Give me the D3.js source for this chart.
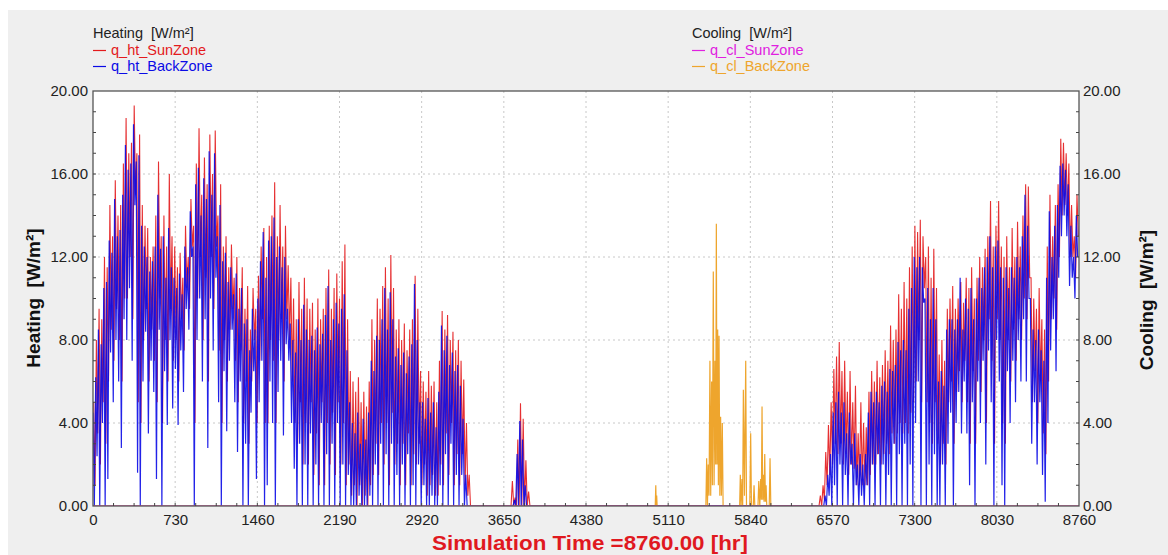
<!DOCTYPE html>
<html>
<head>
<meta charset="utf-8">
<script src="https://cdn.jsdelivr.net/npm/d3@7"></script>
<style>
  html, body { margin: 0; padding: 0; background: #fff; }
  svg { display: block; font-family: "Liberation Sans", Arial, sans-serif; }
  text { white-space: pre; }
</style>
</head>
<body>
<svg id="chart" width="1168" height="555"></svg>
<script>
// Hourly simulation read off the plot as one peak and one low per day
// q_ht_SunZone daily peaks
const sunHi = [
  5, 8, 9.5, 9, 12, 11.5, 14.5, 13, 15.7, 14,
  14.5, 16.5, 18.7, 17, 17.5, 19.3, 17, 17.9, 14.5, 13.5,
  13.4, 12, 12.5, 14, 16.6, 13, 14, 12.5, 16, 13,
  12.5, 11.5, 12.2, 11, 13.5, 12, 14.8, 13.5, 16.5, 18.2,
  15, 16.8, 15.5, 17.9, 16, 18.1, 14, 15.5, 12.5, 13,
  11.5, 12.6, 11, 12, 10.5, 11.5, 9.5, 10.6, 8.5, 10.5,
  9.5, 11.1, 12.5, 13.4, 12, 13.5, 14, 15.6, 13, 14.5,
  12.5, 13.5, 11.6, 11, 10, 9, 10.8, 9.5, 11, 10,
  9.5, 9.8, 8.5, 10, 9, 9.5, 10.5, 11.4, 9.5, 10.5,
  11.2, 10, 11.8, 12.6, 9, 6.5, 6, 5.5, 6.2, 5,
  5.5, 4.8, 6, 9, 8, 10, 9.5, 10.6, 11.5, 10,
  12.1, 10.5, 8.5, 9, 8, 8.8, 7.5, 8.5, 9, 11.1,
  9.5, 6.5, 6, 5.5, 6.5, 5.8, 6, 5, 7, 9.4,
  8.5, 9.2, 8, 8.4, 7.5, 8, 7, 6.1, 4, 1.5,
  0, 0, 0, 0, 0, 0, 0, 0, 0, 0,
  0, 0, 0, 0, 0, 1.2, 0.4, 3.2, 4.95, 4.2,
  2.2, 0.7, 0, 0, 0, 0, 0, 0, 0, 0,
  0, 0, 0, 0, 0, 0, 0, 0, 0, 0, 0, 0, 0, 0, 0, 0, 0, 0, 0, 0, 0, 0, 0, 0, 0, 0, 0, 0, 0, 0,
  0, 0, 0, 0, 0, 0, 0, 0, 0, 0, 0, 0, 0, 0, 0, 0, 0, 0, 0, 0, 0, 0, 0, 0, 0, 0, 0, 0, 0, 0,
  0, 0, 0, 0, 0, 0, 0, 0, 0, 0, 0, 0, 0, 0, 0, 0, 0, 0, 0, 0, 0, 0, 0, 0, 0, 0, 0, 0, 0, 0,
  0, 0, 0, 0, 0, 0, 0, 0, 0, 0.5,
  1, 2.6, 3.9, 5, 6.6, 7.2, 7.9, 6.5, 7, 5.5,
  6.5, 5, 5.8, 3.5, 5, 4, 3.8, 5.5, 6.5, 6,
  7, 6.2, 6.8, 7.5, 7, 8.7, 8, 8.5, 10.2, 9.5,
  10.8, 10, 11.5, 12.5, 13.5, 13.2, 13.8, 13, 12, 12.5,
  11, 12.4, 10.5, 7.3, 8, 7, 9.5, 10, 10.6, 9.5,
  10, 10.8, 9.8, 11, 10.5, 11.5, 10, 11, 12, 11.5,
  12.4, 13, 14.7, 12.5, 13.5, 14.7, 12.5, 12, 13, 11.5,
  13.4, 12, 13.7, 12.5, 14, 15.5, 15.4, 11, 10, 9.5,
  10.5, 9, 8.5, 12.5, 15, 13, 14.5, 15.5, 17.7, 17.5,
  17, 16.5, 14.5, 13, 15
];
// q_ht_SunZone daily lows
const sunLo = [
  1, 3.5, 2, 5, 3, 6, 8.5, 7, 9.5, 8,
  6, 10, 10, 12, 9, 15, 5, 4, 8, 9.5,
  6, 8.5, 7, 5, 10, 4, 8, 6, 9.5, 7,
  8, 6, 9, 7.5, 10.5, 9.5, 12.5, 4, 10, 12,
  8, 11, 6, 12, 9.5, 12.5, 7.5, 4, 8, 6,
  8.5, 9.5, 7, 5, 7.5, 4, 6, 3, 6, 8,
  4, 7, 9, 4, 4, 8, 7, 4, 8, 9,
  6, 9, 8, 6, 4, 3, 5, 2, 4, 2,
  5, 1.5, 3.5, 1, 5, 1, 4, 2, 4.5, 1.5,
  5, 2, 4, 1, 2, 0.5, 1, 0, 1, 0,
  0.5, 0, 1, 1.5, 3, 1.5, 4, 2, 4, 1,
  4.5, 2, 3, 1, 3, 1, 3.5, 1, 2.5, 2,
  3, 1, 2, 0.5, 1, 1.5, 0.5, 0.5, 2, 1,
  3.5, 1.5, 4, 1, 2.5, 1, 2.5, 1, 0.5, 0,
  0, 0, 0, 0, 0, 0, 0, 0, 0, 0,
  0, 0, 0, 0, 0, 0, 0, 0, 0, 0,
  0, 0, 0, 0, 0, 0, 0, 0, 0, 0,
  0, 0, 0, 0, 0, 0, 0, 0, 0, 0, 0, 0, 0, 0, 0, 0, 0, 0, 0, 0, 0, 0, 0, 0, 0, 0, 0, 0, 0, 0,
  0, 0, 0, 0, 0, 0, 0, 0, 0, 0, 0, 0, 0, 0, 0, 0, 0, 0, 0, 0, 0, 0, 0, 0, 0, 0, 0, 0, 0, 0,
  0, 0, 0, 0, 0, 0, 0, 0, 0, 0, 0, 0, 0, 0, 0, 0, 0, 0, 0, 0, 0, 0, 0, 0, 0, 0, 0, 0, 0, 0,
  0, 0, 0, 0, 0, 0, 0, 0, 0, 0,
  0.3, 1, 1.5, 2, 3, 2.5, 3, 2, 2.5, 1.5,
  2, 1.8, 1, 1, 1, 1, 1, 1.5, 2, 2,
  2.5, 2, 2.5, 3, 2.5, 3.5, 3, 3.5, 4, 3.5,
  4, 3.5, 4.5, 5, 6, 8, 5, 10.5, 5, 4,
  3, 5, 3, 2, 3, 2, 5, 6, 3, 5.5,
  6.5, 5, 7, 5, 3, 6.5, 3, 7, 5.5, 8,
  4, 9, 7, 3, 9, 8, 4, 3, 8, 6,
  8.5, 7, 9, 8, 10, 9, 11, 5, 6.5, 4,
  6, 3.5, 2.5, 6, 9, 10, 8.5, 12, 14, 14.5,
  14, 12, 12, 11, 13
];
// q_ht_BackZone daily peaks
const backHi = [
  4.5, 6.2, 8.5, 7.8, 10.5, 10.8, 12.8, 12.2, 14.8, 13,
  13.3, 15, 17.4, 16.2, 16.5, 18.4, 16.6, 16.9, 13.5, 12.5,
  12, 11.3, 11.8, 12.5, 15, 12.4, 13, 11, 13.4, 11.5,
  11, 10.5, 11.2, 10.2, 12.5, 11.5, 14.2, 12.5, 15.5, 16.3,
  14, 15.8, 14.8, 17.1, 15, 17, 13, 14.5, 11.8, 12.2,
  10.8, 11.5, 10.2, 11.2, 9.5, 10.5, 8.8, 9, 7.5, 9.5,
  8.5, 10, 11.8, 13.2, 11, 12.8, 13, 13.9, 12, 12.5,
  11.5, 12, 9.5, 8.8, 8, 7.4, 9, 8, 9.7, 8.5,
  8, 8.2, 7.5, 8.6, 7.8, 8.3, 9.2, 10.6, 8, 9,
  9.8, 8.8, 9.5, 10.2, 7.5, 5, 4, 3.5, 4.5, 3,
  4.2, 3.2, 4.5, 7, 6.5, 8.2, 8, 9, 10.5, 8.5,
  10.3, 9, 7.2, 7.6, 6.8, 7.4, 6.4, 7.2, 7.8, 10.7,
  8, 5, 5, 4.2, 5.2, 4.5, 5, 3.8, 5.5, 8.7,
  7.5, 8.2, 6.8, 7.4, 6.5, 6.8, 5.8, 4.2, 1.5, 0,
  0, 0, 0, 0, 0, 0, 0, 0, 0, 0,
  0, 0, 0, 0, 0, 0, 0.3, 2.5, 4.1, 3.2,
  1, 0, 0, 0, 0, 0, 0, 0, 0, 0,
  0, 0, 0, 0, 0, 0, 0, 0, 0, 0, 0, 0, 0, 0, 0, 0, 0, 0, 0, 0, 0, 0, 0, 0, 0, 0, 0, 0, 0, 0,
  0, 0, 0, 0, 0, 0, 0, 0, 0, 0, 0, 0, 0, 0, 0, 0, 0, 0, 0, 0, 0, 0, 0, 0, 0, 0, 0, 0, 0, 0,
  0, 0, 0, 0, 0, 0, 0, 0, 0, 0, 0, 0, 0, 0, 0, 0, 0, 0, 0, 0, 0, 0, 0, 0, 0, 0, 0, 0, 0, 0,
  0, 0, 0, 0, 0, 0, 0, 0, 0, 0,
  0, 0.5, 1.5, 2.5, 4.5, 5, 5.5, 4.5, 5, 3.5,
  4.5, 3, 3.5, 2, 2.5, 2, 2.5, 4.5, 5.5, 5,
  5.5, 5, 5.8, 6, 5.5, 6.6, 6.5, 6.8, 7.9, 7.5,
  8, 7.5, 9.5, 10.5, 12, 11.5, 12, 11.5, 10, 10.5,
  9, 10.5, 9, 6, 6.5, 5.8, 8.5, 9, 9, 8.5,
  9, 11, 8.5, 10, 9.5, 10.5, 9, 10, 11, 10.5,
  11.5, 12, 13, 11.5, 12.5, 12.8, 11.5, 11, 11.5, 10.5,
  11.5, 11, 12, 11.5, 13, 15, 13.5, 10, 8.5, 8,
  8.5, 7.5, 7, 11, 14.2, 12, 13.5, 14.5, 16.4, 16.5,
  16.2, 15.5, 13.5, 12, 14
];
// q_ht_BackZone daily lows
const backLo = [
  0, 2.4, 0, 4, 0, 1.3, 7.4, 5, 8, 6,
  2.8, 9, 8, 10.5, 7, 14.5, 1.6, 0, 6, 8.4,
  3.5, 7, 5.5, 1.3, 8.5, 0, 6.5, 3.9, 8, 4.7,
  6.6, 3.9, 7.5, 5.5, 9.5, 8.5, 12, 0, 8, 10,
  6, 9, 2.8, 10, 7.5, 11, 5, 0, 6.5, 3.6,
  7, 8.5, 5, 2.6, 6, 0, 3, 0, 4.5, 6.5,
  1.3, 5, 7, 0, 1, 6, 4, 0, 5.5, 7,
  3.4, 7.8, 7, 4, 1.8, 0, 3, 0, 2, 0,
  3.5, 0, 2, 0, 4, 0, 2.5, 0, 3, 0,
  4, 0, 2, 0, 1.5, 0, 0, 0, 0.5, 0,
  0, 0, 0.5, 0, 2, 0, 3, 0, 2.5, 0,
  3, 0, 1.5, 0, 2, 0, 2.5, 0, 1, 0,
  2, 0, 1, 0, 0, 0.5, 0, 0, 1, 0,
  2.5, 0, 3, 0, 1.5, 0, 1.5, 0, 0, 0,
  0, 0, 0, 0, 0, 0, 0, 0, 0, 0,
  0, 0, 0, 0, 0, 0, 0, 0, 0, 0,
  0, 0, 0, 0, 0, 0, 0, 0, 0, 0,
  0, 0, 0, 0, 0, 0, 0, 0, 0, 0, 0, 0, 0, 0, 0, 0, 0, 0, 0, 0, 0, 0, 0, 0, 0, 0, 0, 0, 0, 0,
  0, 0, 0, 0, 0, 0, 0, 0, 0, 0, 0, 0, 0, 0, 0, 0, 0, 0, 0, 0, 0, 0, 0, 0, 0, 0, 0, 0, 0, 0,
  0, 0, 0, 0, 0, 0, 0, 0, 0, 0, 0, 0, 0, 0, 0, 0, 0, 0, 0, 0, 0, 0, 0, 0, 0, 0, 0, 0, 0, 0,
  0, 0, 0, 0, 0, 0, 0, 0, 0, 0,
  0, 0, 0.5, 0, 1, 0, 2, 0, 1.5, 0,
  2, 0, 1, 0, 0.5, 0, 1, 0, 2, 0,
  2.5, 0, 2, 0, 1.5, 0, 3, 0, 2.5, 0,
  3, 0, 2, 0, 4, 6, 0, 9.8, 0, 2,
  0, 2.5, 0, 0, 2, 0, 3, 4.5, 0, 4,
  5.5, 3.5, 6, 3.5, 1, 5, 0, 6, 4, 7,
  2, 7.5, 5, 0, 8, 6, 1, 0, 6.5, 4,
  7, 5, 8, 6, 9, 6, 10, 3, 5, 2,
  5, 1.5, 0.2, 4, 7.5, 9, 6.5, 11, 13, 14,
  13, 10.6, 11, 10, 12
];

// cooling: hour / value readings (q_cl_SunZone stays at zero all year)
const coolHours = [
  0, 4995, 5000, 5004, 5008, 5012,
  5445, 5452, 5459, 5466, 5473, 5481, 5488, 5496, 5503, 5511, 5518, 5526, 5532, 5538,
  5544, 5550, 5556, 5562, 5569, 5576, 5583, 5591, 5598,
  5745, 5751, 5758, 5766, 5772, 5778, 5788, 5799, 5806,
  5835, 5843, 5850, 5866, 5873, 5880,
  5908, 5915, 5924, 5932, 5938, 5944, 5950, 5956, 5962, 5968, 5974, 5980, 5986,
  6008, 6015, 6022, 8760
];
const coolBack = [
  0, 0, 1.0, 0, 0.5, 0,
  0, 2.3, 0, 2.0, 0.5, 7.0, 0.5, 6.0, 1, 11.3, 1, 7.0, 2, 13.6,
  2, 8.5, 1, 8.2, 0.5, 4.3, 0.5, 4.0, 0,
  0, 1.5, 0, 1.3, 0, 5.6, 0.5, 7.0, 0,
  0, 3.5, 0, 0, 1.0, 0,
  0, 1.2, 0, 1.3, 0.3, 4.8, 0.3, 1.5, 0.2, 2.5, 0.2, 1.0, 0,
  0, 2.3, 0, 0
];
const coolSunHours = [0, 8760];
const coolSun = [0, 0];

const xTickValues = [0, 730, 1460, 2190, 2920, 3650, 4380, 5110, 5840, 6570, 7300, 8030, 8760];
const yTickValues = [0, 4, 8, 12, 16, 20];

const colors = { sun: '#e31a1c', back: '#0a0ae6', coolSun: '#e020e0', coolBack: '#eea52d' };

const svg = d3.select('#chart');
const plot = { left: 93, right: 1079, top: 91, bottom: 506 };

const x = d3.scaleLinear().domain([0, 8760]).range([plot.left, plot.right]);
const y = d3.scaleLinear().domain([0, 20]).range([plot.bottom, plot.top]);

// panel background
svg.append('rect').attr('x', 8).attr('y', 10).attr('width', 1160).attr('height', 545).attr('fill', '#efefef');
svg.append('rect')
    .attr('x', plot.left).attr('y', plot.top)
    .attr('width', plot.right - plot.left).attr('height', plot.bottom - plot.top)
    .attr('fill', '#fff');

svg.append('clipPath').attr('id', 'clip')
  .append('rect')
    .attr('x', plot.left).attr('y', plot.top)
    .attr('width', plot.right - plot.left).attr('height', plot.bottom - plot.top);

// dotted grid
const grid = svg.append('g').attr('stroke', '#c8c8c8').attr('stroke-dasharray', '2,3').attr('stroke-width', 1);
grid.selectAll('line.v').data(xTickValues.slice(1, -1)).join('line')
    .attr('x1', d => x(d)).attr('x2', d => x(d))
    .attr('y1', plot.top).attr('y2', plot.bottom);
grid.selectAll('line.h').data(yTickValues.slice(1, -1)).join('line')
    .attr('x1', plot.left).attr('x2', plot.right)
    .attr('y1', d => y(d)).attr('y2', d => y(d));

// daily peak/low pairs -> points; offset shifts the hour of the daily peak
function dailyPoints(hi, lo, offset) {
    const pts = [];
    hi.forEach((v, d) => {
        pts.push({ t: d * 24 + offset, v: v });
        pts.push({ t: d * 24 + offset + 12, v: lo[d] });
    });
    return pts;
}
const line = d3.line().x(d => x(d.t)).y(d => y(d.v));
const traces = svg.append('g').attr('clip-path', 'url(#clip)').attr('fill', 'none');

traces.append('path')
    .attr('d', line(dailyPoints(sunHi, sunLo, 6)))
    .attr('stroke', colors.sun).attr('stroke-width', 1.1).attr('stroke-opacity', 0.9);
traces.append('path')
    .attr('d', line(dailyPoints(backHi, backLo, 0)))
    .attr('stroke', colors.back).attr('stroke-width', 1.2).attr('stroke-opacity', 0.9);
traces.append('path')
    .attr('d', line(coolHours.map((t, i) => ({ t: t, v: coolBack[i] }))))
    .attr('stroke', colors.coolBack).attr('stroke-width', 1.2);
traces.append('path')
    .attr('d', line(coolSunHours.map((t, i) => ({ t: t, v: coolSun[i] }))))
    .attr('stroke', colors.coolSun).attr('stroke-width', 1);

// frame
svg.append('rect')
    .attr('x', plot.left).attr('y', plot.top)
    .attr('width', plot.right - plot.left).attr('height', plot.bottom - plot.top)
    .attr('fill', 'none').attr('stroke', '#555').attr('stroke-width', 1.3);

// minor ticks pointing inward
const ticks = svg.append('g').attr('stroke', '#444').attr('stroke-width', 1);
const xMinor = d3.range(0, 8760, 182.5).slice(1);
ticks.selectAll('line.xm').data(xMinor).join('line')
    .attr('x1', d => x(d)).attr('x2', d => x(d))
    .attr('y1', plot.bottom).attr('y2', plot.bottom - 3);
const yMinor = d3.range(1, 20, 1);
ticks.selectAll('line.yl').data(yMinor).join('line')
    .attr('x1', plot.left).attr('x2', plot.left + 3)
    .attr('y1', d => y(d)).attr('y2', d => y(d));
ticks.selectAll('line.yr').data(yMinor).join('line')
    .attr('x1', plot.right).attr('x2', plot.right - 3)
    .attr('y1', d => y(d)).attr('y2', d => y(d));

// axes (labels only, the frame draws the lines)
function styleAxis(g) {
    g.select('.domain').remove();
    g.selectAll('.tick line').remove();
    g.selectAll('text').attr('fill', '#222').style('font-size', '15px')
        .style('font-family', '"Liberation Sans", Arial, sans-serif');
}
svg.append('g').attr('transform', `translate(0,${plot.bottom})`)
    .call(d3.axisBottom(x).tickValues(xTickValues).tickFormat(d3.format('d')).tickSize(0).tickPadding(8))
    .call(styleAxis);
svg.append('g').attr('transform', `translate(${plot.left},0)`)
    .call(d3.axisLeft(y).tickValues(yTickValues).tickFormat(d3.format('.2f')).tickSize(0).tickPadding(5))
    .call(styleAxis);
svg.append('g').attr('transform', `translate(${plot.right},0)`)
    .call(d3.axisRight(y).tickValues(yTickValues).tickFormat(d3.format('.2f')).tickSize(0).tickPadding(4))
    .call(styleAxis);

// axis titles
svg.append('text')
    .attr('transform', 'translate(40,298) rotate(-90)')
    .attr('text-anchor', 'middle')
    .style('font-size', '19px').style('font-weight', 'bold').attr('fill', '#111')
    .text('Heating  [W/m²]');
svg.append('text')
    .attr('transform', 'translate(1153,300) rotate(-90)')
    .attr('text-anchor', 'middle')
    .style('font-size', '19px').style('font-weight', 'bold').attr('fill', '#111')
    .text('Cooling  [W/m²]');
svg.append('text')
    .attr('x', 590).attr('y', 550)
    .attr('text-anchor', 'middle')
    .attr('textLength', 316).attr('lengthAdjust', 'spacingAndGlyphs')
    .style('font-size', '20px').style('font-weight', 'bold').attr('fill', '#e0191f')
    .text('Simulation Time =8760.00 [hr]');

// legends
const legends = [
    { x: 93, title: 'Heating  [W/m²]', items: [['q_ht_SunZone', colors.sun], ['q_ht_BackZone', colors.back]] },
    { x: 692, title: 'Cooling  [W/m²]', items: [['q_cl_SunZone', colors.coolSun], ['q_cl_BackZone', colors.coolBack]] }
];
legends.forEach(lg => {
    const g = svg.append('g').style('font-size', '14.5px');
    g.append('text').attr('x', lg.x).attr('y', 38).attr('fill', '#222').text(lg.title);
    lg.items.forEach(([name, c], i) => {
        const yy = 55 + i * 16;
        g.append('line').attr('x1', lg.x).attr('x2', lg.x + 13)
            .attr('y1', yy - 4.5).attr('y2', yy - 4.5).attr('stroke', c).attr('stroke-width', 1.2);
        g.append('text').attr('x', lg.x + 18).attr('y', yy).attr('fill', c).text(name);
    });
});
</script>
</body>
</html>
